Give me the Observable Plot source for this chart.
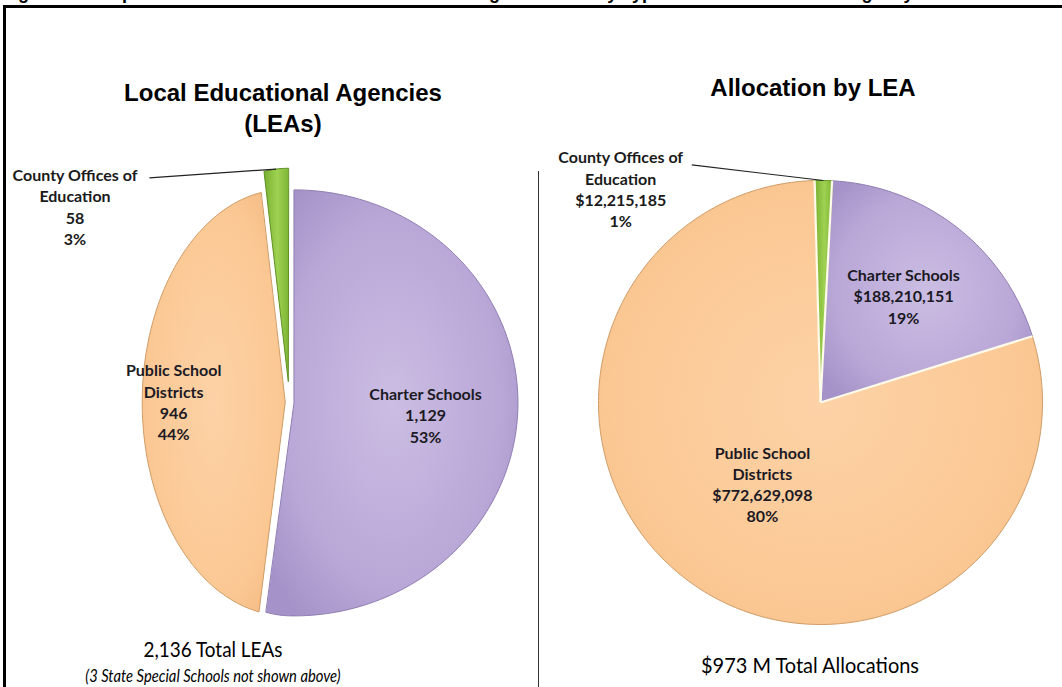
<!DOCTYPE html>
<html>
<head>
<meta charset="utf-8">
<script src="https://cdn.jsdelivr.net/npm/d3@7"></script>
<script src="https://cdn.jsdelivr.net/npm/@observablehq/plot@0.6"></script>
<style>
html, body { margin: 0; padding: 0; background: #fff; }
body { width: 1062px; height: 687px; overflow: hidden; position: relative; font-family: "Liberation Sans", Arial, sans-serif; }
#cuttitle { position: absolute; left: 2px; top: -16px; font: bold 18px "Liberation Sans", Arial, sans-serif; line-height: 18px; white-space: nowrap; color: #000; }
#frame { position: absolute; left: 3px; top: 5px; width: 1200px; height: 900px; border: 3px solid #000; background: #fff; }
#divider { position: absolute; left: 538px; top: 171px; width: 1px; height: 520px; background: #333; }
.title { position: absolute; text-align: center; font: bold 24px "Liberation Sans", Arial, sans-serif; line-height: 31px; color: #000; white-space: pre; }
.foot { position: absolute; text-align: center; font-family: Lato, "Open Sans", sans-serif; color: #000; white-space: nowrap; }
.chart { position: absolute; top: 0; }
</style>
</head>
<body>
<div id="cuttitle"></div>
<div id="frame"></div>
<div id="divider"></div>
<svg width="0" height="0" style="position:absolute">
  <defs>
    <radialGradient id="gPurple" cx="50%" cy="50%" r="62%">
      <stop offset="0%" stop-color="#cbbde3"/>
      <stop offset="70%" stop-color="#b9a7d7"/>
      <stop offset="100%" stop-color="#a592c8"/>
    </radialGradient>
    <radialGradient id="gOrange" cx="50%" cy="50%" r="62%">
      <stop offset="0%" stop-color="#fdd2a6"/>
      <stop offset="75%" stop-color="#fbc894"/>
      <stop offset="100%" stop-color="#f5bc84"/>
    </radialGradient>
    <linearGradient id="gGreen" x1="0%" y1="0%" x2="100%" y2="0%">
      <stop offset="0%" stop-color="#78b030"/>
      <stop offset="55%" stop-color="#9fd152"/>
      <stop offset="100%" stop-color="#7fb737"/>
    </linearGradient>
  </defs>
</svg>
<script>
// ---------- data ----------
const figureTitle = "Figure 3. Comparison of the Number of LEAs and Funding Allocation by Type of Local Educational Agency";
const categories = ["Charter Schools", "Public School Districts", "County Offices of Education"];
const categoryLabelLines = ["Charter Schools", "Public School\nDistricts", "County Offices of\nEducation"];
const leaCounts = [1129, 946, 58];
const leaPercents = ["53%", "44%", "3%"];
const allocations = [188210151, 772629098, 12215185];
const allocPercents = ["19%", "80%", "1%"];
const leftTitle = "Local Educational Agencies\n(LEAs)";
const rightTitle = "Allocation by LEA";
const leaTotalText = "2,136 Total LEAs";
const leaNoteText = "(3 State Special Schools not shown above)";
const allocTotalText = "$973 M Total Allocations";

// ---------- styles ----------
const sliceFills = ["url(#gPurple)", "url(#gOrange)", "url(#gGreen)"];
const sliceStrokes = ["#8f7db3", "#cf9c66", "#5f9124"];
const labelFont = {fontFamily: "Lato", fontWeight: "bold", fontSize: 16, lineHeight: 1.33, fill: "#1c1a24"};

const leftLayout = {
  left: 0, width: 540,
  xDomain: [-1, 0, 1], xRange: [146, 289, 513], yRange: [615, 189],
  startAngle: 0, explode: [0.02, 0.03, 0.1], labelR: [0.59, 0.78, null],
  callout: {x: -1.5, y: 1.11, lx: -0.98, ly: 1.055}, separators: false
};
const rightLayout = {
  left: 540, width: 522,
  xDomain: [-1, 1], xRange: [58, 502], yRange: [624, 180],
  startAngle: 3 * Math.PI / 180, explode: [0, 0, 0], labelR: [0.61, 0.45, null],
  callout: {x: -0.9, y: 1.145, lx: -0.58, ly: 1.07}, separators: true
};

function drawPie(values, valueLabels, percents, layout) {
  const arcs = d3.pie().sort(null).value(d => d).startAngle(layout.startAngle).endAngle(layout.startAngle + 2 * Math.PI)(values);
  const slices = arcs.map((a, i) => {
    const mid = (a.startAngle + a.endAngle) / 2;
    const ox = layout.explode[i] * Math.sin(mid), oy = layout.explode[i] * Math.cos(mid);
    const pts = [{x: ox, y: oy}];
    const n = Math.max(2, Math.ceil((a.endAngle - a.startAngle) / (Math.PI / 180)));
    for (let k = 0; k <= n; k++) {
      const t = a.startAngle + (a.endAngle - a.startAngle) * k / n;
      pts.push({x: ox + Math.sin(t), y: oy + Math.cos(t)});
    }
    return {i, a, mid, ox, oy, pts,
      text: `${categoryLabelLines[i]}\n${valueLabels[i]}\n${percents[i]}`};
  });
  const marks = [];
  slices.forEach(s => {
    marks.push(Plot.line(s.pts, {x: "x", y: "y", curve: "linear-closed", fill: sliceFills[s.i], stroke: sliceStrokes[s.i], strokeWidth: 1, strokeLinejoin: "round"}));
  });
  if (layout.separators) {
    const edges = slices.map(s => ({x1: 0, y1: 0, x2: Math.sin(s.a.startAngle), y2: Math.cos(s.a.startAngle)}));
    marks.push(Plot.link(edges, {x1: "x1", y1: "y1", x2: "x2", y2: "y2", stroke: "#fffbea", strokeWidth: 2.2}));
  }
  const inner = slices.filter(s => layout.labelR[s.i] != null).map(s => ({
    x: s.ox + layout.labelR[s.i] * Math.sin(s.mid),
    y: s.oy + layout.labelR[s.i] * Math.cos(s.mid),
    text: s.text
  }));
  marks.push(Plot.text(inner, {x: "x", y: "y", text: "text", lineAnchor: "middle", textAnchor: "middle", ...labelFont}));
  const outer = slices.filter(s => layout.labelR[s.i] == null);
  outer.forEach(s => {
    const tip = {x: s.ox + Math.sin(s.mid), y: s.oy + Math.cos(s.mid)};
    marks.push(Plot.link([{x1: layout.callout.lx, y1: layout.callout.ly, x2: tip.x, y2: tip.y}],
      {x1: "x1", y1: "y1", x2: "x2", y2: "y2", stroke: "#222", strokeWidth: 1.2}));
    marks.push(Plot.text([{x: layout.callout.x, y: layout.callout.y, text: s.text}],
      {x: "x", y: "y", text: "text", lineAnchor: "top", textAnchor: "middle", ...labelFont, fill: "#1a1a1a"}));
  });
  const svg = Plot.plot({
    width: layout.width, height: 687, margin: 0,
    x: {type: "linear", domain: layout.xDomain, range: layout.xRange, axis: null},
    y: {type: "linear", domain: [-1, 1], range: layout.yRange, axis: null},
    style: {background: "transparent", overflow: "visible"},
    marks
  });
  svg.classList.add("chart");
  svg.style.left = layout.left + "px";
  document.body.appendChild(svg);
}

document.getElementById("cuttitle").textContent = figureTitle;

drawPie(leaCounts, leaCounts.map(d3.format(",")), leaPercents, leftLayout);
drawPie(allocations, allocations.map(d3.format("$,")), allocPercents, rightLayout);

function addDiv(cls, text, left, width, top, extra) {
  const d = document.createElement("div");
  d.className = cls;
  d.textContent = text;
  d.style.left = left + "px";
  d.style.width = width + "px";
  d.style.top = top + "px";
  Object.assign(d.style, extra || {});
  document.body.appendChild(d);
  return d;
}
addDiv("title", leftTitle, 0, 566, 77);
addDiv("title", rightTitle, 540, 546, 72);
addDiv("foot", leaTotalText, 13, 400, 636, {fontSize: "21px", transform: "scaleX(0.9)"});
addDiv("foot", leaNoteText, 13, 400, 664, {fontSize: "18px", fontStyle: "italic", transform: "scaleX(0.82)"});
addDiv("foot", allocTotalText, 610, 400, 652, {fontSize: "21px", transform: "scaleX(0.95)"});
</script>
</body>
</html>
